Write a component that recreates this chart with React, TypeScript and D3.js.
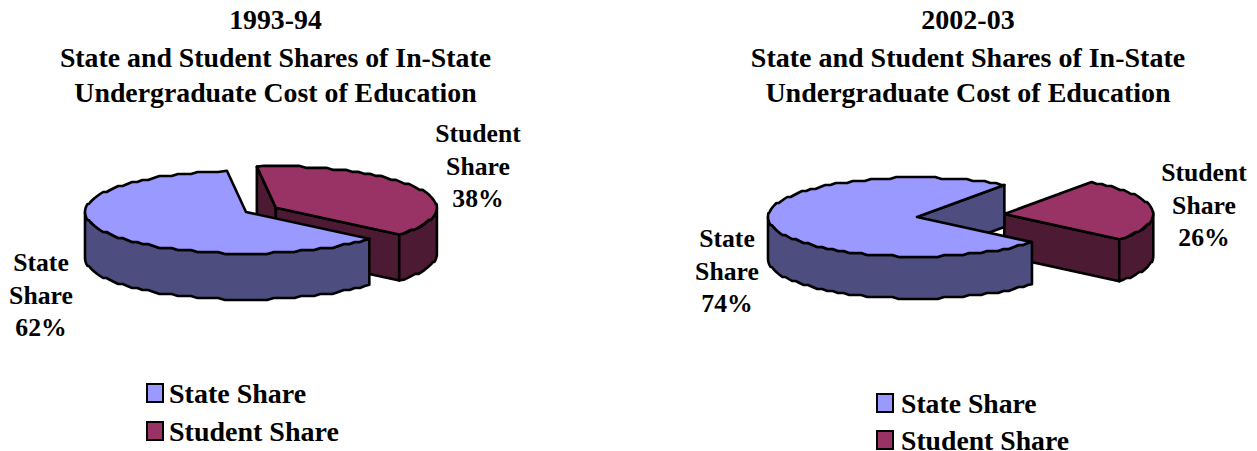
import React from 'react'
import * as d3 from 'd3'

const categories = ['State Share', 'Student Share']
const shares9394 = [62, 38]
const shares0203 = [74, 26]
const titleLines = ['State and Student Shares of In-State', 'Undergraduate Cost of Education']

const topColors = ['#9999FF', '#993366']
const sideColors = ['#4D4D80', '#4D1A33']
const serif = '"Liberation Serif", "Times New Roman", serif'
const rad = Math.PI / 180

const line = d3.line()

function PieChart({ values, cx, cy, rx, ry, depth, startDeg, explode }: any) {
  const pie = d3.pie<number>().sort(null)
    .startAngle(startDeg * rad)
    .endAngle(startDeg * rad + 2 * Math.PI)
  const arcs = pie(values)

  const slices = arcs.map((d, i) => {
    // d3 angles run from 12 o'clock, shift them so 0 is pointing right
    const a0 = d.startAngle - Math.PI / 2
    const a1 = d.endAngle - Math.PI / 2
    const mid = (a0 + a1) / 2
    const ex = i === 1 ? explode : 0
    const ox = cx + ex * Math.cos(mid)
    const oy = cy + (ex * Math.sin(mid) * ry) / rx
    const pt = (a: number): [number, number] => [ox + rx * Math.cos(a), oy + ry * Math.sin(a)]
    const down = (p: [number, number]): [number, number] => [p[0], p[1] + depth]
    // the original rim is a coarse metafile outline, so snap inner points to a small stair step
    const snap = (p: [number, number]): [number, number] => [p[0], oy + Math.round((p[1] - oy) / 2) * 2]
    const sample = (from: number, to: number) => {
      const step = 2.5 * rad
      const inner = d3.range(from + step, to - step / 2, step).map((a) => snap(pt(a)))
      return [pt(from), ...inner, pt(to)]
    }
    const apex: [number, number] = [ox, oy]

    const walls: string[] = []
    if (Math.cos(a0) < 0) walls.push(line([apex, pt(a0), down(pt(a0)), down(apex)]) + 'Z')
    if (Math.cos(a1) > 0) walls.push(line([apex, pt(a1), down(pt(a1)), down(apex)]) + 'Z')

    // outer rim only where it faces the viewer
    const rims: string[] = []
    for (const k of [0, 1, 2]) {
      const from = Math.max(a0, k * 2 * Math.PI)
      const to = Math.min(a1, Math.PI + k * 2 * Math.PI)
      if (from < to) {
        const arc = sample(from, to)
        rims.push(line([...arc, ...arc.map(down).reverse()]) + 'Z')
      }
    }
    const top = line([apex, ...sample(a0, a1)]) + 'Z'
    return { i, walls, rims, top }
  })

  return (
    <g stroke="#000" strokeWidth={2.6} strokeLinejoin="round">
      {[slices[1], slices[0]].map((s) => (
        <g key={s.i}>
          {s.walls.map((p, j) => <path key={j} d={p} fill={sideColors[s.i]} />)}
          {s.rims.map((p, j) => <path key={j} d={p} fill={sideColors[s.i]} />)}
          <path d={s.top} fill={topColors[s.i]} />
        </g>
      ))}
    </g>
  )
}

function Title({ x, year, size }: any) {
  return (
    <g textAnchor="middle" fontSize={size} fontWeight="bold">
      <text x={x} y={29}>{year}</text>
      {titleLines.map((t, i) => <text key={t} x={x} y={67 + i * 35}>{t}</text>)}
    </g>
  )
}

function Label({ x, y, name, value }: any) {
  const lines = [...name.split(' '), `${value}%`]
  return (
    <g textAnchor="middle" fontSize={25.7} fontWeight="bold">
      {lines.map((t: string, i: number) => <text key={i} x={x} y={y + i * 32.5}>{t}</text>)}
    </g>
  )
}

function Legend({ x, ys, textX, size }: any) {
  return (
    <g>
      {categories.map((c, i) => (
        <g key={c}>
          <rect x={x} y={ys[i]} width={16} height={18} fill={topColors[i]} stroke="#000" strokeWidth={2} />
          <text x={textX} y={ys[i] + 19} fontSize={size} fontWeight="bold">{c}</text>
        </g>
      ))}
    </g>
  )
}

export default function App() {
  return (
    <svg width={1257} height={451} fontFamily={serif} fill="#000"
      style={{ position: 'absolute', left: 0, top: 0 }}>
      <Title x={275.5} year="1993-94" size={27.8} />
      <PieChart values={shares9394} cx={246} cy={212} rx={161} ry={41.5} depth={46} startDeg={130} explode={34} />
      <Label x={478} y={142} name={categories[1]} value={shares9394[1]} />
      <Label x={41} y={271} name={categories[0]} value={shares9394[0]} />
      <Legend x={147} ys={[384, 422]} textX={169} size={28} />

      <Title x={968} year="2002-03" size={28} />
      <PieChart values={shares0203} cx={917} cy={217} rx={149} ry={39.5} depth={42} startDeg={129.5} explode={88} />
      <Label x={1204} y={181} name={categories[1]} value={shares0203[1]} />
      <Label x={727} y={247} name={categories[0]} value={shares0203[0]} />
      <Legend x={877} ys={[394, 431]} textX={901} size={27.7} />
    </svg>
  )
}
